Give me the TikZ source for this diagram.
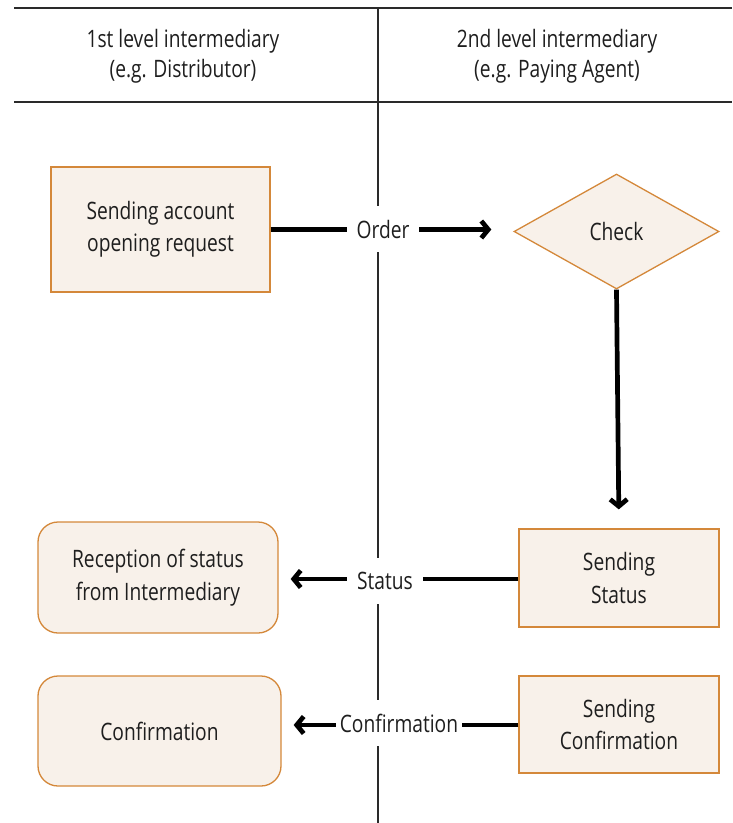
\documentclass[tikz,border=0pt]{standalone}
\usepackage{fontspec}
\setmainfont[FakeStretch=0.8]{Open Sans}
\usetikzlibrary{shapes.geometric,arrows.meta}
\definecolor{boxfill}{HTML}{F8F1EA}
\definecolor{boxline}{HTML}{D4883A}
\definecolor{txt}{HTML}{1E1E1E}
\definecolor{rule}{HTML}{2A2A2A}
\begin{document}
\begin{tikzpicture}[x=1pt,y=-1pt,
  txtfont/.style={font=\fontsize{24}{32.5}\selectfont, text=txt},
  sqbox/.style={draw=boxline, fill=boxfill, line width=1.3pt, align=center, inner sep=0pt, txtfont},
  rbox/.style={sqbox, rounded corners=20pt},
  dbox/.style={draw=boxline, fill=boxfill, line width=1.3pt, diamond, inner sep=0pt, txtfont},
  head/.style={align=center, font=\fontsize{24}{30}\selectfont, text=txt},
  flow/.style={line width=4.7pt, black, -{Straight Barb[length=7pt,width=17pt,line width=4.7pt]}},
  divider/.style={line width=1.3pt, rule},
  lbl/.style={fill=white, inner xsep=10pt, inner ysep=14pt, txtfont}
]
\useasboundingbox (0,0) rectangle (732,823);
% table rules
\coordinate (tl) at (14,8);
\coordinate (tr) at (732,8);
\coordinate (hl) at (14,102);
\coordinate (hr) at (732,102);
\coordinate (vt) at (378,8);
\coordinate (vb) at (378,823);
\draw[divider] (tl) -- (tr);
\draw[divider] (hl) -- (hr);
\draw[divider] (vt) -- (vb);
% headers
\node[head] (h1) at (183,56) {1st level intermediary\\(e.g. Distributor)};
\node[head] (h2) at (557,56) {2nd level intermediary\\(e.g. Paying Agent)};
% boxes
\node[sqbox, minimum width=219pt, minimum height=125pt] (send) at (160.5,229.5) {Sending account\\opening request};
\node[dbox, minimum width=205pt, minimum height=115pt] (check) at (616.5,231.5) {Check};
\node[sqbox, minimum width=200pt, minimum height=98pt] (sstat) at (619,578) {Sending\\Status};
\node[rbox, minimum width=240pt, minimum height=111pt] (recep) at (158,577.5) {Reception of status\\from Intermediary};
\node[sqbox, minimum width=200pt, minimum height=97pt] (sconf) at (619,724.5) {Sending\\Confirmation};
\node[rbox, minimum width=243pt, minimum height=110pt] (conf) at (159.5,731) {Confirmation};
% connectors
\draw[flow, shorten >=22pt] (send.east) -- (send.east -| check.west);
\draw[flow, shorten >=19pt] (check.south) -- (sstat.north);
\draw[flow, shorten >=12pt] (sstat.west |- 0,579) -- (recep.east |- 0,579);
\draw[flow, shorten >=12pt] (sconf.west |- 0,725) -- (conf.east |- 0,725);
% labels
\node[lbl] (lorder) at (383,229) {Order};
\node[lbl] (lstat) at (385,581) {Status};
\node[lbl, inner xsep=4pt] (lconf) at (399,723) {Confirmation};
\end{tikzpicture}
\end{document}
